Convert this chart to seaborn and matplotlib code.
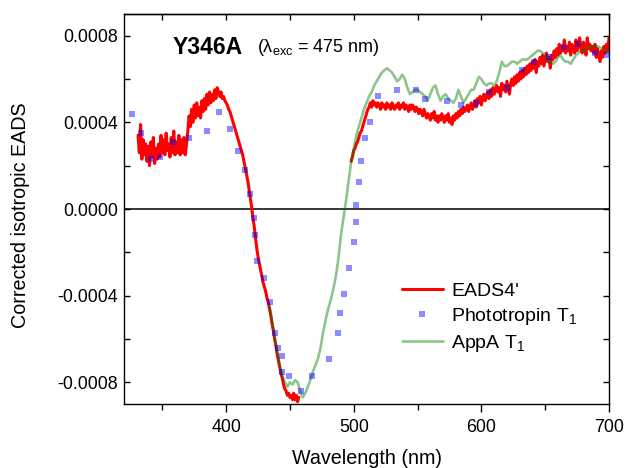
import numpy as np
import pandas as pd
import matplotlib
matplotlib.use("Agg")
import matplotlib.pyplot as plt
from matplotlib.lines import Line2D
from matplotlib.ticker import MultipleLocator, FormatStrFormatter
import seaborn as sns

# ---------------- data (values in units of 1e-4) ----------------
# EADS4' (red), first segment 331..457 nm, 1 nm steps
red_a_wl = np.arange(331, 458)
red_a = [3.4, 2.6, 3.9, 2.3, 3.2, 2.5, 3.0, 2.2, 2.9, 2.0,
         3.1, 2.4, 3.3, 2.1, 2.8, 2.3, 3.0, 2.4, 3.4, 2.6,
         3.2, 2.5, 3.5, 2.7, 3.0, 2.4, 3.3, 2.6, 3.6, 2.5,
         3.1, 2.6, 3.4, 2.5, 3.2, 2.6, 3.3, 2.5, 3.0, 3.6,
         4.3, 3.8, 4.6, 4.0, 4.8, 4.2, 4.9, 4.3, 4.7, 4.2,
         5.0, 4.5, 5.1, 4.6, 5.3, 4.8, 5.4, 4.9, 5.3, 5.0,
         5.5, 5.1, 5.6, 5.4, 5.2, 5.4, 5.1, 5.2, 5.0, 4.9,
         4.8, 4.6, 4.5, 4.3, 4.1, 3.9, 3.7, 3.5, 3.3, 3.1,
         2.9, 2.7, 2.5, 2.2, 1.9, 1.6, 1.3, 0.9, 0.5, 0.1,
         -0.4, -0.8, -1.3, -1.8, -2.2, -2.5, -2.8, -3.1, -3.4, -3.6,
         -3.8, -4.1, -4.3, -4.6, -4.9, -5.3, -5.6, -6.0, -6.3, -6.7,
         -7.0, -7.3, -7.6, -7.8, -8.1, -8.3, -8.4, -8.6, -8.5, -8.7,
         -8.6, -8.8, -8.5, -8.8, -8.6, -8.9, -8.7]
# EADS4' second segment 498..700 nm, 1 nm steps
red_b_wl = np.arange(498, 701)
red_b = [2.2, 2.4, 2.7, 2.8, 3.0, 3.1, 3.3, 3.5, 3.6, 3.8,
         4.0, 4.2, 4.4, 4.6, 4.7, 4.9, 4.7, 5.0, 4.8, 4.9,
         4.7, 4.9, 4.8, 4.6, 4.9, 4.7, 4.8, 4.6, 4.9, 4.7,
         4.8, 4.6, 4.9, 4.7, 4.6, 4.8, 4.7, 4.9, 4.6, 4.8,
         4.7, 4.9, 4.6, 4.8, 4.7, 4.5, 4.8, 4.6, 4.8, 4.7,
         4.5, 4.7, 4.6, 4.4, 4.6, 4.5, 4.3, 4.6, 4.4, 4.2,
         4.4, 4.3, 4.1, 4.4, 4.2, 4.5, 4.1, 4.3, 4.0, 4.3,
         4.1, 4.4, 4.2, 4.0, 4.3, 4.1, 4.4, 4.0, 4.2, 3.9,
         4.3, 4.1, 4.4, 4.2, 4.5, 4.3, 4.6, 4.4, 4.7, 4.5,
         4.6, 4.8, 4.5, 4.7, 4.9, 4.6, 4.8, 5.0, 4.7, 5.1,
         4.9, 5.2, 4.8, 5.1, 5.3, 5.0, 5.2, 5.4, 5.1, 5.5,
         5.2, 5.6, 5.3, 5.5, 5.7, 5.4, 5.6, 5.2, 5.8, 5.5,
         5.7, 5.4, 5.9, 5.6, 5.3, 5.8, 6.0, 5.7, 6.1, 5.8,
         6.2, 5.9, 6.3, 6.0, 6.4, 6.1, 6.5, 6.2, 6.6, 6.3,
         6.7, 6.4, 6.8, 6.5, 6.9, 6.3, 6.8, 6.6, 7.0, 6.7,
         7.1, 6.6, 6.9, 7.2, 6.8, 7.0, 6.5, 7.1, 6.9, 7.3,
         7.0, 7.4, 7.1, 7.6, 7.2, 7.5, 7.3, 7.8, 7.2, 7.5,
         7.3, 7.7, 7.1, 7.6, 7.4, 7.2, 7.8, 7.3, 7.6, 7.9,
         7.4, 7.2, 7.7, 7.5, 7.1, 7.9, 7.4, 7.6, 7.3, 7.5,
         7.2, 7.6, 7.0, 7.4, 7.1, 6.8, 7.3, 7.0, 7.5, 7.2,
         7.6, 7.3, 7.9]

# AppA T1 (green), 434..700 nm, 2 nm steps
appa_wl = np.arange(434, 701, 2)
appa = [-4.5, -5.2, -5.9, -6.6, -7.2, -7.7, -8.0, -8.2, -8.0, -8.1,
        -7.9, -8.0, -8.4, -8.7, -8.5, -8.2, -7.9, -7.5, -7.2, -6.9,
        -6.4, -5.7, -5.1, -4.6, -4.2, -3.7, -3.1, -2.3, -1.2, -0.4,
        0.4, 1.3, 2.2, 2.8, 3.4, 3.8, 4.2, 4.6, 4.9, 5.2,
        5.4, 5.7, 5.9, 6.1, 6.3, 6.4, 6.5, 6.4, 6.3, 6.1,
        5.9, 6.0, 6.2, 6.0, 5.6, 5.3, 5.4, 5.5, 5.5, 5.4,
        5.3, 5.2, 5.0, 5.3, 5.6, 5.7, 5.3, 5.0, 5.2, 5.3,
        5.1, 5.0, 4.9, 5.1, 5.5, 5.2, 4.9, 5.1, 5.3, 5.5,
        5.5, 5.8, 6.1, 6.0, 5.8, 5.7, 5.8, 5.8, 5.7, 5.9,
        6.3, 6.8, 6.6, 6.6, 6.7, 6.8, 6.8, 6.7, 6.8, 6.9,
        6.9, 6.9, 7.0, 7.1, 7.2, 7.3, 7.3, 7.2, 7.1, 6.9,
        6.8, 6.7, 6.8, 7.0, 7.1, 6.9, 6.8, 6.8, 6.7, 6.9,
        7.1, 7.2, 7.3, 7.3, 7.4, 7.5, 7.5, 7.5, 7.5, 7.5,
        7.4, 7.4, 7.3, 7.2]

# Phototropin T1 (blue squares)
photo_wl = [326, 333, 341, 348, 358, 371, 385, 394.5, 403, 409,
            415, 419, 422, 423, 424.5, 430, 434, 438.5, 441, 444,
            444, 449, 459, 467, 481, 488, 489, 492, 496, 500,
            502, 502, 504.5, 506, 509, 513, 519, 534, 548.5, 556,
            573, 584, 595.5, 606, 620, 632, 641, 653, 665, 676,
            689, 698.5]
photo = [4.4, 3.5, 2.3, 2.4, 3.1, 3.3, 3.6, 4.5, 3.7, 2.7,
         1.8, 0.7, -0.4, -1.2, -2.4, -3.2, -4.3, -5.7, -6.4, -6.8,
         -7.5, -7.7, -8.4, -7.7, -6.9, -5.7, -4.8, -3.9, -2.7, -1.5,
         -0.6, 0.2, 1.25, 2.2, 3.3, 4.0, 5.2, 5.5, 5.5, 5.1,
         5.0, 4.8, 4.9, 5.4, 5.6, 6.4, 6.8, 7.0, 7.5, 7.6,
         7.2, 7.1]

SCALE = 1e-4
labels = ["EADS4'", "Phototropin T$_1$", "AppA T$_1$"]
x_ticks = [400, 500, 600, 700]
y_ticks = [-0.0008, -0.0004, 0.0, 0.0004, 0.0008]

# ---------------- style ----------------
sns.set_style("ticks")
plt.rcParams["font.family"] = ["Liberation Sans", "DejaVu Sans"]
plt.rcParams["mathtext.fontset"] = "custom"
plt.rcParams["mathtext.rm"] = "Liberation Sans"
plt.rcParams["mathtext.it"] = "Liberation Sans:italic"
plt.rcParams["mathtext.bf"] = "Liberation Sans:bold"
plt.rcParams["axes.unicode_minus"] = False
plt.rcParams["text.color"] = "black"
plt.rcParams["axes.labelcolor"] = "black"
plt.rcParams["xtick.color"] = "black"
plt.rcParams["ytick.color"] = "black"

fig = plt.figure(figsize=(6.25, 4.68), dpi=100)
ax = fig.add_axes([124 / 625, 1 - 404 / 468, (609 - 124) / 625, (404 - 14) / 468])

RED = "#ff0000"
GREEN = "#008000"
BLUE = "#0000ff"

ax.axhline(0, color="black", lw=1.1, zorder=1)

df_a = pd.DataFrame({"wl": red_a_wl, "v": np.array(red_a) * SCALE})
df_b = pd.DataFrame({"wl": red_b_wl, "v": np.array(red_b) * SCALE})
df_g = pd.DataFrame({"wl": appa_wl, "v": np.array(appa) * SCALE})
df_p = pd.DataFrame({"wl": photo_wl, "v": np.array(photo) * SCALE})

sns.lineplot(data=df_a, x="wl", y="v", ax=ax, color=RED, lw=2.2,
             estimator=None, sort=False, legend=False, zorder=2)
sns.lineplot(data=df_b, x="wl", y="v", ax=ax, color=RED, lw=2.2,
             estimator=None, sort=False, legend=False, zorder=2)
sns.lineplot(data=df_g, x="wl", y="v", ax=ax, color=GREEN, lw=1.9, alpha=0.45,
             estimator=None, sort=False, legend=False, zorder=3)
sns.scatterplot(data=df_p, x="wl", y="v", ax=ax, color=BLUE, marker="s", s=22,
                alpha=0.45, linewidth=0, legend=False, zorder=4)

ax.set_xlim(320, 700)
ax.set_ylim(-0.0009, 0.0009)
ax.set_xticks(x_ticks)
ax.set_yticks(y_ticks)
ax.xaxis.set_minor_locator(MultipleLocator(50))
ax.yaxis.set_minor_locator(MultipleLocator(0.0002))
ax.yaxis.set_major_formatter(FormatStrFormatter("%.4f"))

for s in ax.spines.values():
    s.set_visible(True)
    s.set_linewidth(1.0)
    s.set_color("black")

ax.tick_params(axis="y", which="both", direction="in", left=True, right=True,
               length=4, width=1.0, labelsize=12.8, pad=4.5, colors="black")
ax.tick_params(axis="x", which="major", direction="out", bottom=True, top=False,
               length=6, width=1.0, labelsize=12.8, pad=5, colors="black")
ax.tick_params(axis="x", which="minor", direction="out", bottom=True, top=False,
               length=4, width=1.0)

sec = ax.secondary_xaxis("top")
sec.set_xticks(x_ticks)
sec.xaxis.set_minor_locator(MultipleLocator(50))
sec.tick_params(axis="x", which="both", direction="in", length=4, width=1.0,
                labeltop=False)
sec.spines["top"].set_linewidth(1.0)

ax.set_xlabel("Wavelength (nm)", fontsize=14.2)
ax.set_ylabel("Corrected isotropic EADS", fontsize=14.2)
ax.xaxis.set_label_coords(0.5, -0.115)
ax.yaxis.set_label_coords(-0.193, 0.485)

ax.text(0.101, 0.915, "Y346A", transform=ax.transAxes, fontsize=16.5,
        fontweight="bold", ha="left", va="center")
ax.text(0.274, 0.915, "(λ$_{\\rm exc}$ = 475 nm)", transform=ax.transAxes,
        fontsize=13, ha="left", va="center")

handles = [
    Line2D([], [], color=RED, lw=2.2),
    Line2D([], [], color=BLUE, marker="s", ls="none", markersize=4.5,
           alpha=0.45, markeredgewidth=0),
    Line2D([], [], color=GREEN, lw=1.9, alpha=0.45),
]
ax.legend(handles, labels, loc="upper left", bbox_to_anchor=(0.573, 0.312),
          frameon=False, fontsize=14, handlelength=2.1, handletextpad=0.42,
          labelspacing=0.3, borderpad=0, borderaxespad=0)

fig.savefig("out.png", dpi=100)
